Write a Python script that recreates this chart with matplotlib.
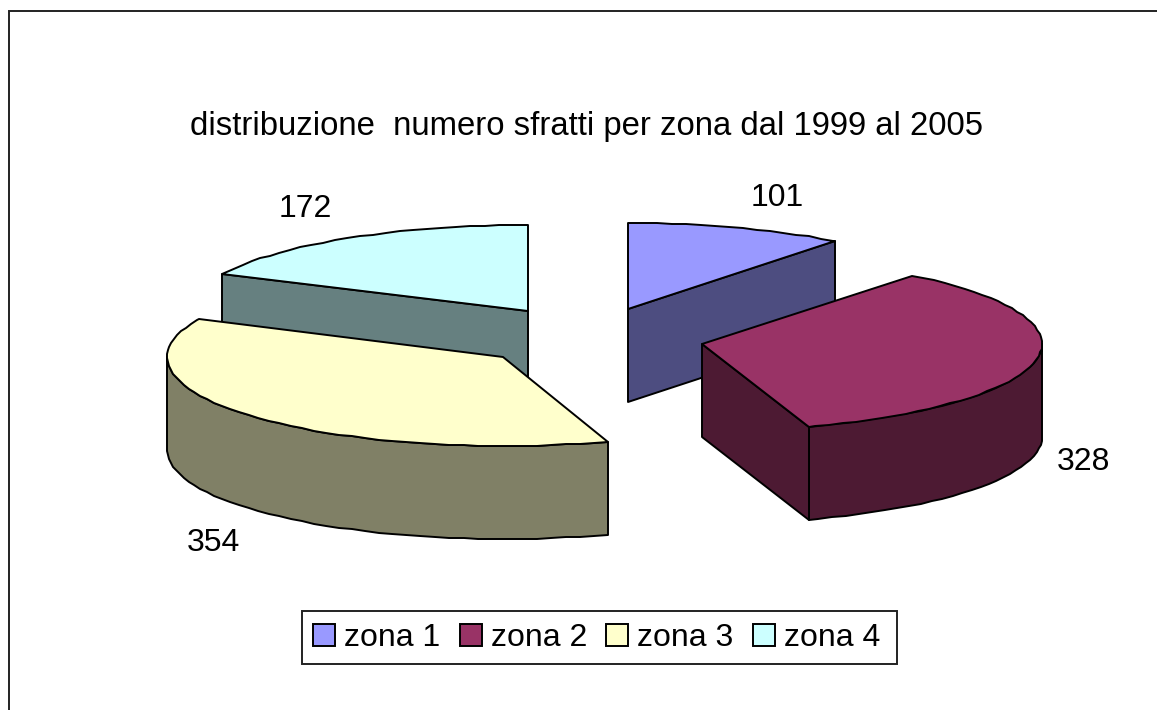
import numpy as np
import matplotlib
matplotlib.use("Agg")
import matplotlib.pyplot as plt
from matplotlib.patches import Polygon, Patch, Rectangle

plt.rcParams['font.family'] = ['Liberation Sans', 'DejaVu Sans']

# dati
zone = ["zona 1", "zona 2", "zona 3", "zona 4"]
sfratti = [101, 328, 354, 172]
titolo = "distribuzione  numero sfratti per zona dal 1999 al 2005"

# colori
col_top = ["#9999FF", "#993366", "#FFFFCC", "#CCFFFF"]
col_side = ["#4D4D80", "#4D1A33", "#808066", "#668080"]

# geometria in pixel
centri = [(628, 309), (702, 344), (503, 357), (528, 311)]
raggi_x = [336, 340, 336, 338]
raggi_y = [86, 87, 89, 86]
h = 93
pos_label = [(777, 198), (1083, 462), (213, 543), (305, 209)]

fig = plt.figure(figsize=(11.57, 7.10), dpi=100)
ax = fig.add_axes([0, 0, 1, 1])
ax.set_xlim(0, 1157)
ax.set_ylim(710, 0)
ax.axis("off")

# angoli delle fette, 0 = ore 12, senso orario
tot = sum(sfratti)
bordi = np.concatenate([[0], np.cumsum(sfratti)]) / tot * 360


def punto(i, ang):
    a = np.radians(ang)
    x = centri[i][0] + raggi_x[i] * np.sin(a)
    y = centri[i][1] - raggi_y[i] * np.cos(a)
    return round(x), round(y)


def arco(i, a0, a1):
    angs = np.arange(a0, a1, 2.5)
    angs = np.append(angs, a1)
    return [punto(i, a) for a in angs]


def giu(pts):
    return [(x, y + h) for x, y in pts]


def faccia(pts, colore, z):
    ax.add_patch(Polygon(pts, closed=True, facecolor=colore, edgecolor="black",
                         linewidth=1.4, joinstyle="round", zorder=z))


# zona 4
z = 1
a0, a1 = bordi[3], bordi[4]
taglio = [centri[3], punto(3, a0)]
faccia(taglio + giu(taglio)[::-1], col_side[3], z)
faccia([centri[3]] + arco(3, a0, a1), col_top[3], z + 0.1)

# zona 1
z = 2
a0, a1 = bordi[0], bordi[1]
taglio = [centri[0], punto(0, a1)]
faccia(taglio + giu(taglio)[::-1], col_side[0], z)
faccia([centri[0]] + arco(0, a0, a1), col_top[0], z + 0.1)

# zona 3
z = 3
a0, a1 = bordi[2], bordi[3]
bordo = arco(2, a0, 270)
faccia(bordo + giu(bordo)[::-1], col_side[2], z)
faccia([centri[2]] + arco(2, a0, a1), col_top[2], z + 0.1)

# zona 2
z = 4
a0, a1 = bordi[1], bordi[2]
bordo = arco(1, 90, a1)
faccia(bordo + giu(bordo)[::-1], col_side[1], z)
taglio = [centri[1], punto(1, a1)]
faccia(taglio + giu(taglio)[::-1], col_side[1], z + 0.05)
faccia([centri[1]] + arco(1, a0, a1), col_top[1], z + 0.1)

# etichette
for i, v in enumerate(sfratti):
    ax.text(pos_label[i][0], pos_label[i][1], str(v), fontsize=23,
            ha="center", va="center", color="black")

ax.text(587, 127, titolo, fontsize=23.7, ha="center", va="center", color="black")

# cornice: solo sopra e a sinistra
ax.plot([1157, 9, 9], [11, 11, 710], color="#222222", linewidth=1.4,
        solid_joinstyle="miter", clip_on=False)

# riquadro legenda
ax.add_patch(Rectangle((302, 611), 595, 53, facecolor="white", edgecolor="#222222",
                       linewidth=1.4, zorder=9))

handles = [Patch(facecolor=c, edgecolor="black", linewidth=1.4) for c in col_top]
leg = ax.legend(handles, zone, ncol=4, loc="center left", bbox_to_anchor=(302, 638),
                bbox_transform=ax.transData, fontsize=23, frameon=False,
                handlelength=0.69, handleheight=0.69, handletextpad=0.28,
                columnspacing=0.61, borderpad=0.34, borderaxespad=0)
leg.set_zorder(10)

fig.savefig("out.png", dpi=100, facecolor="white")
